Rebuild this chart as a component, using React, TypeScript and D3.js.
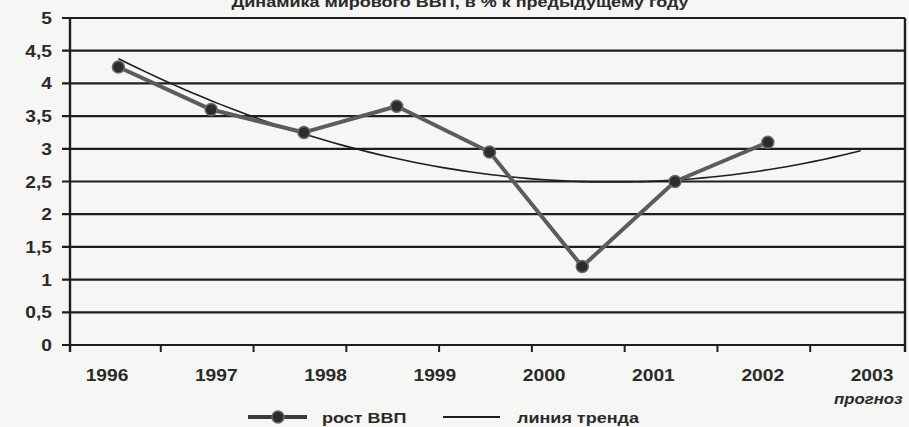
import * as d3 from 'd3'
import { useEffect, useRef } from 'react'

const title = 'Динамика мирового ВВП, в % к предыдущему году'
const years = ['1996', '1997', '1998', '1999', '2000', '2001', '2002', '2003']
const growth = [4.25, 3.6, 3.25, 3.65, 2.95, 1.2, 2.5, 3.1]
const forecastPeriods = 1
const yTicks = [0, 0.5, 1, 1.5, 2, 2.5, 3, 3.5, 4, 4.5, 5]
const forecastNote = 'прогноз'
const legendNames = ['рост ВВП', 'линия тренда']

const W = 909
const H = 427

// quadratic least squares, like the spreadsheet's polynomial trend line
function quadFit(ys: number[]) {
  const n = ys.length
  const xs = ys.map((_, i) => i)
  const m = d3.mean(xs) as number
  const t = xs.map(x => x - m)
  const s2 = d3.sum(t, v => v * v)
  const s4 = d3.sum(t, v => v ** 4)
  const sy = d3.sum(ys)
  const sty = d3.sum(t, (v, i) => v * ys[i])
  const st2y = d3.sum(t, (v, i) => v * v * ys[i])
  const b = sty / s2
  const c = (st2y - (s2 * sy) / n) / (s4 - (s2 * s2) / n)
  const a = (sy - c * s2) / n
  return (x: number) => a + b * (x - m) + c * (x - m) ** 2
}

export default function App() {
  const svgRef = useRef<SVGSVGElement | null>(null)

  useEffect(() => {
    if (!svgRef.current)
      return
    const svg = d3.select(svgRef.current)
    svg.selectAll('*').remove()

    const font = '"Liberation Sans", Arial, sans-serif'
    const left = 70
    const right = 905
    const top = 18
    const bottom = 345

    svg.append('rect').attr('width', W).attr('height', H).attr('fill', '#f6f6f4')

    const slots = d3.range(growth.length + forecastPeriods)
    const x = d3.scaleBand<number>().domain(slots).range([left - 2, right - 2])
    const cx = (i: number) => (x(i) as number) + x.bandwidth() / 2 + 4
    const y = d3.scaleLinear().domain([0, 5]).range([bottom, top])
    const labelX = d3.scalePoint<string>().domain(years).range([107, 872])

    const txt = (g: d3.Selection<any, any, any, any>, s: string, tx: number, ty: number, anchor: string, size = 16, italic = false) =>
      g.append('text')
        .attr('transform', `translate(${tx},${ty}) scale(1.2,1)`)
        .attr('text-anchor', anchor)
        .attr('font-family', font)
        .attr('font-weight', 'bold')
        .attr('font-style', italic ? 'italic' : 'normal')
        .attr('font-size', size)
        .attr('fill', '#2a2a2a')
        .text(s)

    // title (cut at the top edge)
    txt(svg, title, 460, 7, 'middle', 15)

    // gridlines
    svg.append('g')
      .selectAll('line')
      .data(yTicks)
      .join('line')
      .attr('x1', left - 8)
      .attr('x2', right)
      .attr('y1', d => y(d))
      .attr('y2', d => y(d))
      .attr('stroke', '#1e1e1e')
      .attr('stroke-width', 2.2)

    // axes frame
    svg.append('line').attr('x1', left).attr('x2', left).attr('y1', top).attr('y2', bottom + 7)
      .attr('stroke', '#1e1e1e').attr('stroke-width', 2.4)
    svg.append('line').attr('x1', right).attr('x2', right).attr('y1', top).attr('y2', bottom + 7)
      .attr('stroke', '#1e1e1e').attr('stroke-width', 2.4)

    // x ticks at band edges
    svg.append('g')
      .selectAll('line')
      .data(slots.slice(1))
      .join('line')
      .attr('x1', d => x(d) as number)
      .attr('x2', d => x(d) as number)
      .attr('y1', bottom)
      .attr('y2', bottom + 7)
      .attr('stroke', '#1e1e1e')
      .attr('stroke-width', 2)

    // y labels
    const yl = svg.append('g')
    yTicks.forEach(v => txt(yl, String(v).replace('.', ','), 52, y(v) + 6, 'end'))

    // x labels
    const xl = svg.append('g')
    years.forEach(s => txt(xl, s, labelX(s) as number, 381, 'middle'))
    txt(xl, forecastNote, 834, 404, 'start', 14, true)

    // trend line
    const f = quadFit(growth)
    const tSteps = d3.range(0, slots.length - 1 + 0.001, 0.1)
    svg.append('path')
      .datum(tSteps)
      .attr('d', d3.line<number>()
        .x(t => cx(0) + t * x.step())
        .y(t => y(f(t)))
        .curve(d3.curveMonotoneX))
      .attr('fill', 'none')
      .attr('stroke', '#1e1e1e')
      .attr('stroke-width', 1.6)

    // data line
    svg.append('path')
      .datum(growth)
      .attr('d', d3.line<number>().x((_, i) => cx(i)).y(d => y(d)))
      .attr('fill', 'none')
      .attr('stroke', '#5c5c5c')
      .attr('stroke-width', 4)
      .attr('stroke-linejoin', 'round')

    svg.append('g')
      .selectAll('circle')
      .data(growth)
      .join('circle')
      .attr('cx', (_, i) => cx(i))
      .attr('cy', d => y(d))
      .attr('r', 6)
      .attr('fill', '#2c2c2c')
      .attr('stroke', '#6a6a6a')
      .attr('stroke-width', 1.5)

    // legend
    const lg = svg.append('g')
    lg.append('line').attr('x1', 248).attr('x2', 307).attr('y1', 417).attr('y2', 417)
      .attr('stroke', '#3a3a3a').attr('stroke-width', 4)
    lg.append('circle').attr('cx', 278).attr('cy', 417).attr('r', 6)
      .attr('fill', '#2c2c2c').attr('stroke', '#6a6a6a').attr('stroke-width', 1.5)
    txt(lg, legendNames[0], 322, 423, 'start', 15)
    lg.append('line').attr('x1', 443).attr('x2', 500).attr('y1', 417).attr('y2', 417)
      .attr('stroke', '#1e1e1e').attr('stroke-width', 2)
    txt(lg, legendNames[1], 517, 423, 'start', 15)
  }, [])

  return (
    <svg
      ref={svgRef}
      width={W}
      height={H}
      style={{ position: 'absolute', left: 0, top: 0 }}
    />
  )
}
